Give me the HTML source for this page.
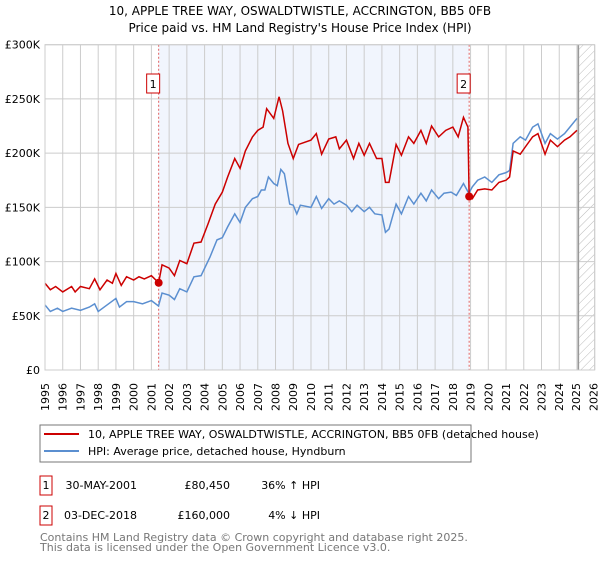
<!DOCTYPE html>
<html><head><meta charset="utf-8"><style>
body{margin:0;background:#fff;font-family:"Liberation Sans","DejaVu Sans",sans-serif;}
svg text{font-family:"DejaVu Sans","Liberation Sans",sans-serif;}
</style></head><body>
<svg id="c" width="600" height="560" xmlns="http://www.w3.org/2000/svg">
<defs><pattern id="hatch" width="6" height="6" patternUnits="userSpaceOnUse" patternTransform="rotate(45)"><line x1="0" y1="0" x2="0" y2="6" stroke="#bbb" stroke-width="1"/></pattern></defs>
<text x="300" y="15" text-anchor="middle" font-size="12">10, APPLE TREE WAY, OSWALDTWISTLE, ACCRINGTON, BB5 0FB</text>
<text x="300" y="32" text-anchor="middle" font-size="12">Price paid vs. HM Land Registry's House Price Index (HPI)</text>
<g id="grid"></g><g id="marks"></g><g id="axes"></g>
<g font-size="11" text-anchor="end">
<text transform="translate(49,383) rotate(-90)">1995</text>
<text transform="translate(66.7,383) rotate(-90)">1996</text>
<text transform="translate(84.5,383) rotate(-90)">1997</text>
<text transform="translate(102.2,383) rotate(-90)">1998</text>
<text transform="translate(119.9,383) rotate(-90)">1999</text>
<text transform="translate(137.7,383) rotate(-90)">2000</text>
<text transform="translate(155.4,383) rotate(-90)">2001</text>
<text transform="translate(173.1,383) rotate(-90)">2002</text>
<text transform="translate(190.9,383) rotate(-90)">2003</text>
<text transform="translate(208.6,383) rotate(-90)">2004</text>
<text transform="translate(226.3,383) rotate(-90)">2005</text>
<text transform="translate(244.1,383) rotate(-90)">2006</text>
<text transform="translate(261.8,383) rotate(-90)">2007</text>
<text transform="translate(279.5,383) rotate(-90)">2008</text>
<text transform="translate(297.2,383) rotate(-90)">2009</text>
<text transform="translate(315.0,383) rotate(-90)">2010</text>
<text transform="translate(332.7,383) rotate(-90)">2011</text>
<text transform="translate(350.4,383) rotate(-90)">2012</text>
<text transform="translate(368.2,383) rotate(-90)">2013</text>
<text transform="translate(385.9,383) rotate(-90)">2014</text>
<text transform="translate(403.6,383) rotate(-90)">2015</text>
<text transform="translate(421.4,383) rotate(-90)">2016</text>
<text transform="translate(439.1,383) rotate(-90)">2017</text>
<text transform="translate(456.8,383) rotate(-90)">2018</text>
<text transform="translate(474.6,383) rotate(-90)">2019</text>
<text transform="translate(492.3,383) rotate(-90)">2020</text>
<text transform="translate(510.0,383) rotate(-90)">2021</text>
<text transform="translate(527.8,383) rotate(-90)">2022</text>
<text transform="translate(545.5,383) rotate(-90)">2023</text>
<text transform="translate(563.2,383) rotate(-90)">2024</text>
<text transform="translate(580.0,383) rotate(-90)">2025</text>
<text transform="translate(597.7,383) rotate(-90)">2026</text>
</g>
<rect x="40" y="425" width="431" height="37" fill="#fff" stroke="#777"/>
<line x1="44" y1="434" x2="79" y2="434" stroke="#cc0000" stroke-width="2"/>
<text x="88" y="438" font-size="11">10, APPLE TREE WAY, OSWALDTWISTLE, ACCRINGTON, BB5 0FB (detached house)</text>
<line x1="44" y1="451" x2="79" y2="451" stroke="#5b8fd0" stroke-width="2"/>
<text x="88" y="455" font-size="11">HPI: Average price, detached house, Hyndburn</text>
<rect x="40" y="476" width="12" height="19" fill="#fff" stroke="#cc0000"/>
<text x="46" y="489" text-anchor="middle" font-size="11">1</text>
<text x="137" y="489" text-anchor="end" font-size="11">30-MAY-2001</text>
<text x="230" y="489" text-anchor="end" font-size="11">£80,450</text>
<text x="320" y="489" text-anchor="end" font-size="11">36% ↑ HPI</text>
<rect x="40" y="506" width="12" height="19" fill="#fff" stroke="#cc0000"/>
<text x="46" y="519" text-anchor="middle" font-size="11">2</text>
<text x="137" y="519" text-anchor="end" font-size="11">03-DEC-2018</text>
<text x="230" y="519" text-anchor="end" font-size="11">£160,000</text>
<text x="320" y="519" text-anchor="end" font-size="11">4% ↓ HPI</text>
<text x="40" y="541" font-size="11" fill="#777">Contains HM Land Registry data © Crown copyright and database right 2025.</text>
<text x="40" y="551" font-size="11" fill="#777">This data is licensed under the Open Government Licence v3.0.</text>
</svg>
<script>
const yTicks=[0,50000,100000,150000,200000,250000,300000];
const yTickLabels=["£0","£50K","£100K","£150K","£200K","£250K","£300K"];
const xYears=[1995,1996,1997,1998,1999,2000,2001,2002,2003,2004,2005,2006,2007,2008,2009,2010,2011,2012,2013,2014,2015,2016,2017,2018,2019,2020,2021,2022,2023,2024,2025,2026];
const hpiT=[1995.0,1995.3,1995.7,1996.0,1996.5,1997.0,1997.5,1997.8,1998.0,1998.5,1999.0,1999.2,1999.6,2000.0,2000.5,2001.0,2001.4,2001.6,2002.0,2002.3,2002.6,2003.0,2003.4,2003.8,2004.3,2004.7,2005.0,2005.3,2005.7,2006.0,2006.3,2006.7,2007.0,2007.2,2007.4,2007.6,2007.9,2008.1,2008.3,2008.5,2008.8,2009.0,2009.2,2009.4,2010.0,2010.3,2010.6,2011.0,2011.3,2011.6,2012.0,2012.3,2012.6,2013.0,2013.3,2013.6,2014.0,2014.2,2014.4,2014.8,2015.1,2015.5,2015.8,2016.2,2016.5,2016.8,2017.2,2017.5,2017.9,2018.2,2018.6,2018.9,2019.1,2019.4,2019.8,2020.2,2020.6,2021.0,2021.2,2021.4,2021.8,2022.1,2022.5,2022.8,2023.2,2023.5,2023.9,2024.3,2024.6,2025.0];
const hpiV=[60,54,57,54,57,55,58,61,54,60,66,58,63,63,61,64,59,71,69,65,75,72,86,87,104,120,122,132,144,136,150,158,160,166,166,178,172,170,185,181,153,152,144,152,150,160,149,158,153,156,152,146,152,146,150,144,143,127,130,153,144,160,153,163,156,166,158,163,164,161,172,163,169,175,178,173,180,182,184,209,215,212,224,227,209,218,213,218,224,232];
const propT=[1995.0,1995.3,1995.6,1996.0,1996.5,1996.7,1997.0,1997.5,1997.8,1998.1,1998.5,1998.8,1999.0,1999.3,1999.6,2000.0,2000.3,2000.6,2001.0,2001.41,2001.6,2002.0,2002.3,2002.6,2003.0,2003.4,2003.8,2004.2,2004.6,2005.0,2005.3,2005.7,2006.0,2006.3,2006.7,2007.0,2007.3,2007.5,2007.9,2008.2,2008.4,2008.7,2009.0,2009.3,2010.0,2010.3,2010.6,2011.0,2011.4,2011.6,2012.0,2012.4,2012.7,2013.0,2013.3,2013.7,2014.0,2014.2,2014.4,2014.8,2015.1,2015.5,2015.8,2016.2,2016.5,2016.8,2017.2,2017.6,2018.0,2018.3,2018.6,2018.85,2018.92,2019.1,2019.4,2019.8,2020.2,2020.6,2021.0,2021.2,2021.4,2021.8,2022.1,2022.5,2022.8,2023.2,2023.5,2023.9,2024.3,2024.6,2025.0];
const propV=[80,74,77,72,77,72,77,75,84,74,83,80,89,78,86,83,86,84,87,80.45,97,94,87,101,98,117,118,135,153,164,178,195,186,202,215,221,224,241,232,252,239,209,195,208,212,218,199,213,215,204,212,195,209,198,209,195,195,173,173,208,198,215,209,221,209,225,215,221,224,215,233,224,160,158,166,167,166,173,175,178,202,199,206,215,218,199,212,206,212,215,221];
const saleT=[2001.41,2018.92];
const saleV=[80.45,160];
const saleLabels=["1","2"];
const X0=45,X1=594.7,Y0=370,Y1=44.7;
const xs=t=>X0+(t-1995)/31*(X1-X0);
const ys=v=>Y0-v/300000*(Y0-Y1);
const NS="http://www.w3.org/2000/svg";
function mk(tag,attrs,parent){const e=document.createElementNS(NS,tag);for(const k in attrs)e.setAttribute(k,attrs[k]);document.getElementById(parent).appendChild(e);return e;}
let r=mk('rect',{x:xs(saleT[0]),y:Y1,width:xs(saleT[1])-xs(saleT[0]),height:Y0-Y1,fill:'#eef3fd',opacity:0.8},'grid');


let h=mk('rect',{x:xs(2025.08),y:Y1,width:X1-xs(2025.08),height:Y0-Y1,fill:'url(#hatch)'},'grid');


xYears.forEach(y=>{let l=mk('line',{x1:xs(y),x2:xs(y),y1:Y1,y2:Y0,stroke:'#ccc'},'grid');

});
yTicks.forEach((v,i)=>{let l=mk('line',{x1:X0,x2:X1,y1:ys(v),y2:ys(v),stroke:'#ccc'},'grid');


let t=mk('text',{x:40,y:ys(v)+4,'font-size':'11','text-anchor':'end'},'axes');t.textContent=yTickLabels[i];

});
let nl=mk('line',{x1:xs(2025.08),x2:xs(2025.08),y1:Y1,y2:Y0,stroke:'#999','stroke-width':1.5},'grid');


saleT.forEach((t,i)=>{let l=mk('line',{x1:xs(t),x2:xs(t),y1:Y1,y2:Y0,stroke:'#e06060','stroke-dasharray':'2,2'},'grid');

});
let hp=mk('polyline',{points:hpiT.map((t,i)=>xs(t)+','+ys(hpiV[i]*1000)).join(' '),fill:'none',stroke:'#5b8fd0','stroke-width':1.5},'marks');


let pp=mk('polyline',{points:propT.map((t,i)=>xs(t)+','+ys(propV[i]*1000)).join(' '),fill:'none',stroke:'#cc0000','stroke-width':1.5},'marks');


saleT.forEach((t,i)=>{let c=mk('circle',{cx:xs(t),cy:ys(saleV[i]*1000),r:4,fill:'#cc0000'},'marks');


let b=mk('rect',{x:xs(t)-12,y:74,width:13,height:19,fill:'#fff',stroke:'#cc0000'},'marks');


let tx=mk('text',{x:xs(t)-5.5,y:88,'font-size':'11','text-anchor':'middle'},'marks');tx.textContent=saleLabels[i];

});
let fr=mk('rect',{x:X0,y:Y1,width:X1-X0,height:Y0-Y1,fill:'none',stroke:'#ccc'},'axes');


</script>
</body></html>
